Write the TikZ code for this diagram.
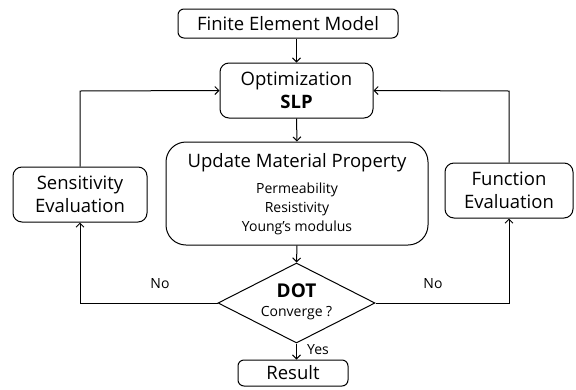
\documentclass[tikz,border=0pt]{standalone}
\usepackage{fontspec}
\setmainfont{Open Sans}
\usetikzlibrary{shapes.geometric,arrows.meta}
\tikzset{
  box/.style={draw, rounded corners=6pt, line width=1pt, align=center, inner sep=0pt},
  big/.style={font=\fontsize{18.5}{23}\selectfont},
  small/.style={font=\fontsize{14}{19}\selectfont},
  conn/.style={line width=1pt, -{Straight Barb[length=4pt,width=8pt]}},
}
\begin{document}
\begin{tikzpicture}[x=1pt,y=-1pt]
\useasboundingbox (0,0) rectangle (576,389);
\node[box,big,minimum width=220pt,minimum height=29pt] (fem) at (288,23.5) {Finite Element Model};
\node[box,big,minimum width=153pt,minimum height=55pt,rounded corners=9pt] (opt) at (296.5,90.5) {Optimization\\\textbf{SLP}};
\node[box,minimum width=262pt,minimum height=103pt,rounded corners=20pt] (upd) at (297,193.5) {};
\node[big] (updt) at (297,163) {Update Material Property};
\node[small,align=center] (props) at (297,209) {Permeability\\Resistivity\\Young's modulus};
\node[box,big,minimum width=134pt,minimum height=55pt,rounded corners=9pt] (sens) at (80,194.5) {Sensitivity\\Evaluation};
\node[box,big,minimum width=128pt,minimum height=55pt,rounded corners=9pt] (func) at (509,190.5) {Function\\Evaluation};
\node[draw,diamond,line width=1pt,minimum width=157pt,minimum height=80pt,inner sep=0pt] (dot) at (296.5,303) {};
\node[font=\fontsize{19}{22}\selectfont\bfseries] (dott) at (296.5,291) {DOT};
\node[small] (conv) at (296.5,313) {Converge ?};
\node[box,big,minimum width=110pt,minimum height=26pt] (res) at (293,373) {Result};
\coordinate (lb) at (80,303);
\coordinate (lt) at (80,91);
\coordinate (rb) at (509,303);
\coordinate (rt) at (509,91);
\draw[conn] (opt.north |- fem.south) -- (opt.north);
\draw[conn] (opt.south) -- (upd.north);
\draw[conn] (upd.south) -- (dot.north);
\draw[conn] (dot.south) -- (dot.south |- res.north);
\draw[conn] (dot.west) -- (lb) -- (sens.south);
\draw[conn] (sens.north) -- (lt) -- (opt.west);
\draw[conn] (dot.east) -- (rb) -- (func.south);
\draw[conn] (func.north) -- (rt) -- (opt.east);
\node[small] (no1) at (160,284) {No};
\node[small] (no2) at (433,284) {No};
\node[small] (yes) at (318,350) {Yes};
\end{tikzpicture}
\end{document}
